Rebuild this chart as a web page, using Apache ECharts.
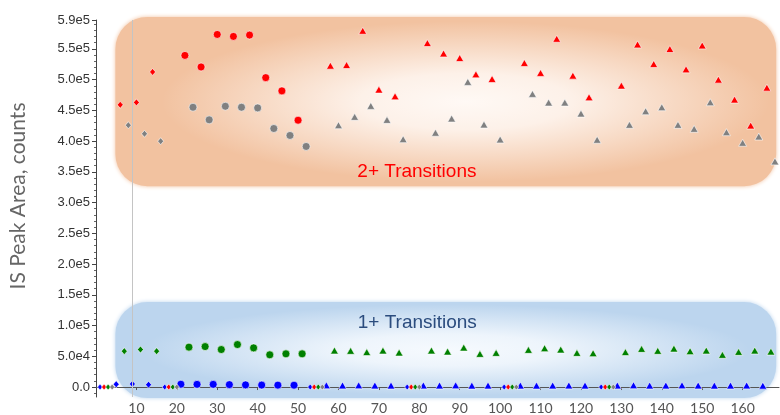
<!DOCTYPE html>
<html>
<head>
<meta charset="utf-8">
<script src="https://cdn.jsdelivr.net/npm/echarts@6/dist/echarts.min.js"></script>
<style>
  html, body { margin: 0; padding: 0; background: #ffffff; }
  #chart { width: 780px; height: 415px; }
</style>
</head>
<body>
<div id="chart"></div>
<script>
// Each replicate occupies four consecutive x slots:
// slot 1 = 1+ low transition, 2 = 2+ high, 3 = 1+ mid, 4 = 2+ mid.
// Blank replicates are plotted at zero.
const markerByReplicate = [
  'blank', 'diamond', 'diamond', 'diamond',
  'blank', 'circle', 'circle', 'circle', 'circle', 'circle', 'circle', 'circle', 'circle',
  'blank', 'triangle', 'triangle', 'triangle', 'triangle', 'triangle',
  'blank', 'triangle', 'triangle', 'triangle', 'triangle', 'triangle',
  'blank', 'triangle', 'triangle', 'triangle', 'triangle', 'triangle',
  'blank', 'triangle', 'triangle', 'triangle', 'triangle', 'triangle',
  'triangle', 'triangle', 'triangle', 'triangle', 'triangle'
];

// 2+ transitions (red)
const high2Plus = [
  0, 459000, 463000, 512500,
  0, 539400, 520600, 573500, 570300, 572500, 503200, 481700, 434000,
  0, 522700, 523800, 579500, 483800, 472900,
  0, 559500, 542600, 535200, 508600, 501100,
  0, 527100, 510900, 566500, 506500, 471300,
  0, 490300, 557300, 525500, 549800, 516700, 555700, 500000, 467600, 425400, 487000
];

// 2+ transitions (gray)
const mid2Plus = [
  0, 425900, 411900, 399900,
  0, 455100, 434600, 456700, 455100, 454000, 420500, 409200, 391300,
  0, 425900, 439500, 457300, 434600, 403200,
  0, 413600, 436700, 496300, 427000, 402700,
  0, 476800, 462700, 462700, 444800, 402200,
  0, 426500, 448600, 455100, 426500, 420000, 463200, 414500, 397300, 407500, 367000
];

// 1+ transitions (green)
const mid1Plus = [
  0, 58400, 61000, 58400,
  0, 64900, 65800, 61000, 69100, 63700, 52400, 54000, 54000,
  0, 59400, 58900, 56800, 59400, 56100,
  0, 59400, 57700, 64200, 54000, 55600,
  0, 60500, 63200, 61000, 55600, 55100,
  0, 56800, 62100, 58900, 62600, 58400, 59400, 52400, 57200, 59400, 57700
];

// 1+ transitions (blue)
const low1Plus = [
  0, 4500, 5000, 3800,
  0, 4600, 4400, 4400, 3900, 3500, 3200, 3100, 3000,
  0, 2800, 2700, 2800, 2600, 2500,
  0, 2700, 2600, 2800, 2400, 2500,
  0, 2500, 2400, 2600, 2700, 2500,
  0, 2600, 2900, 2500, 2600, 2800, 2600, 2400, 2500, 2700, 2300
];

const yTickValues = [0, 50000, 100000, 150000, 200000, 250000, 300000, 350000,
                     400000, 450000, 500000, 550000, 597000];
const yTickLabels = ['0.0', '5.0e4', '1.0e5', '1.5e5', '2.0e5', '2.5e5', '3.0e5', '3.5e5',
                     '4.0e5', '4.5e5', '5.0e5', '5.5e5', '5.9e5'];
const yMinorTicks = [-10000, 10000, 20000, 30000, 40000, 60000, 70000, 80000, 90000,
  110000, 120000, 130000, 140000, 160000, 170000, 180000, 190000,
  210000, 220000, 230000, 240000, 260000, 270000, 280000, 290000,
  310000, 320000, 330000, 340000, 360000, 370000, 380000, 390000,
  410000, 420000, 430000, 440000, 460000, 470000, 480000, 490000,
  510000, 520000, 530000, 540000, 560000, 570000, 580000, 590000];
const xTickValues = [10, 20, 30, 40, 50, 60, 70, 80, 90, 100, 110, 120, 130, 140, 150, 160];
const selectedReplicateX = 9;

const Y_MIN = -16200, Y_MAX = 597000, X_MIN = 0, X_MAX = 169;

const symbolFor = { blank: 'diamond', diamond: 'diamond', circle: 'circle', triangle: 'triangle' };
const sizeFor = { blank: [5, 6], diamond: [6, 7], circle: 8, triangle: [8, 7] };

function pointSeries(name, values, slot, color) {
  return {
    name: name,
    type: 'scatter',
    data: values.map((v, r) => [4 * r + slot, v]),
    symbol: (val, p) => symbolFor[markerByReplicate[p.dataIndex]],
    symbolSize: (val, p) => sizeFor[markerByReplicate[p.dataIndex]],
    itemStyle: { color: color, borderColor: 'rgba(255,255,255,0.75)', borderWidth: 0.8, opacity: 1 },
    z: 3
  };
}

const chart = echarts.init(document.getElementById('chart'), null, { renderer: 'canvas' });

const blueSeries = pointSeries('1+ low', low1Plus, 1, '#0000ff');
blueSeries.markLine = {
  silent: true,
  symbol: ['none', 'none'],
  label: { show: false },
  lineStyle: { color: '#c4c4c4', width: 1, type: 'solid' },
  data: [{ xAxis: selectedReplicateX }],
  animation: false
};

chart.setOption({
  animation: false,
  backgroundColor: '#ffffff',
  grid: { left: 95, right: 1, top: 20, bottom: 17, containLabel: false },
  xAxis: {
    type: 'value', min: X_MIN, max: X_MAX,
    axisLine: { show: true, lineStyle: { color: '#555555', width: 1 } },
    axisTick: { show: true, customValues: xTickValues, length: 3, lineStyle: { color: '#555555' } },
    axisLabel: {
      customValues: xTickValues, margin: 4,
      fontFamily: 'Lato', fontSize: 14, color: '#555555'
    },
    splitLine: { show: false }
  },
  yAxis: [{
    type: 'value', min: Y_MIN, max: Y_MAX,
    name: 'IS Peak Area, counts',
    nameLocation: 'middle', nameGap: 67, nameRotate: 90,
    nameTextStyle: { fontFamily: 'Lato', fontSize: 21, color: '#666666', padding: [0, 0, 0, 25] },
    axisLine: { show: true, lineStyle: { color: '#444444', width: 1 } },
    axisTick: { show: true, customValues: yTickValues, length: 4, lineStyle: { color: '#444444' } },
    axisLabel: {
      customValues: yTickValues, margin: 6,
      fontFamily: 'Liberation Sans', fontSize: 13, color: '#333333',
      formatter: (v) => { const i = yTickValues.indexOf(v); return i >= 0 ? yTickLabels[i] : ''; }
    },
    splitLine: { show: false }
  }, {
    type: 'value', min: Y_MIN, max: Y_MAX, position: 'left',
    axisLine: { show: false },
    axisTick: { show: true, customValues: yMinorTicks, length: 2, lineStyle: { color: '#666666' } },
    axisLabel: { show: false },
    splitLine: { show: false }
  }],
  series: [
    blueSeries,
    pointSeries('2+ high', high2Plus, 2, '#ff0000'),
    pointSeries('1+ mid', mid1Plus, 3, '#008000'),
    pointSeries('2+ mid', mid2Plus, 4, '#808080')
  ]
});

// Shaded bands behind the two transition groups, placed in axis space.
function toPx(x, y) { return chart.convertToPixel({ xAxisIndex: 0, yAxisIndex: 0 }, [x, y]); }

function glowBox(x0, yTop, x1, yBottom, edgeColor, glowColor, glowFrac) {
  const a = toPx(x0, yTop), b = toPx(x1, yBottom);
  const w = b[0] - a[0], h = b[1] - a[1];
  const gw = w * glowFrac[0], gh = h * glowFrac[1];
  const gx = a[0] + w * glowFrac[2] - gw / 2, gy = a[1] + h * 0.5 - gh / 2;
  return [{
    type: 'rect', z: -2, silent: true,
    shape: { x: a[0], y: a[1], width: w, height: h, r: 32 },
    style: { fill: edgeColor, shadowBlur: 4, shadowColor: edgeColor }
  }, {
    type: 'rect', z: -1, silent: true,
    x: gx, y: gy, scaleX: gw / gh, scaleY: 1,
    shape: { x: 0, y: 0, width: gh, height: gh },
    style: {
      fill: new echarts.graphic.RadialGradient(0.5, 0.5, 0.5, [
        { offset: 0, color: glowColor.replace('A', '1') },
        { offset: 0.35, color: glowColor.replace('A', '0.85') },
        { offset: 0.7, color: glowColor.replace('A', '0.4') },
        { offset: 1, color: glowColor.replace('A', '0') }
      ])
    }
  }];
}

function bandLabel(text, x, y, color) {
  const p = toPx(x, y);
  return {
    type: 'text', z: 1, silent: true, x: p[0], y: p[1],
    style: {
      text: text, fill: color, font: '19px "Liberation Sans", Arial, sans-serif',
      textAlign: 'center', textVerticalAlign: 'middle'
    }
  };
}

const graphics = []
  .concat(glowBox(4.8, 602000, 168.3, 326500, '#f2c2a0', 'rgba(255,249,245,A)', [0.92, 0.95, 0.53]))
  .concat(glowBox(4.8, 138300, 168.3, -18000, '#bcd5ee', 'rgba(246,250,254,A)', [0.92, 0.95, 0.5]))
  .concat([
    bandLabel('2+ Transitions', 79.4, 350000, '#ff0000'),
    bandLabel('1+ Transitions', 79.5, 105000, '#2b4c7e')
  ]);

chart.setOption({ graphic: graphics });
</script>
</body>
</html>
